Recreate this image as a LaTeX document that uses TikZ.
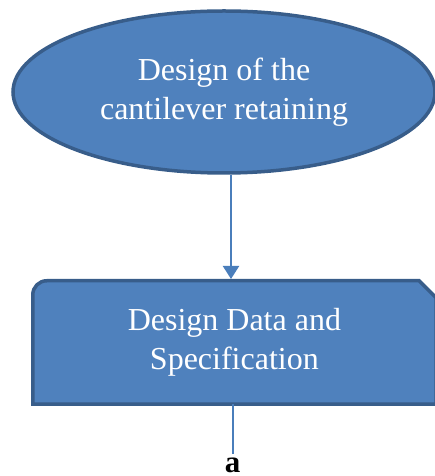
\documentclass[tikz,border=0pt]{standalone}
\usepackage{fontspec}
\setmainfont{Liberation Serif}
\usetikzlibrary{shapes.geometric,arrows.meta,backgrounds}

\definecolor{shapefill}{HTML}{4F81BD}
\definecolor{shapeline}{HTML}{385D8A}
\definecolor{flowline}{HTML}{4A7EBB}

\tikzset{
  boxtext/.style={text=white, font=\fontsize{32}{39}\selectfont, align=center, inner sep=0pt},
  startshape/.style={boxtext, ellipse, draw=shapeline, fill=shapefill, line width=3.5pt},
  shapepath/.style={draw=shapeline, fill=shapefill, line width=3.5pt},
  flow/.style={draw=flowline, line width=2pt},
  flowarrow/.style={flow, -{Triangle[width=16pt,length=13pt]}},
}

\begin{document}
\begin{tikzpicture}[x=1pt, y=1pt]
  \useasboundingbox (0,0) rectangle (435,476);

  % start ellipse
  \node[startshape, minimum width=422pt, minimum height=162pt] (goal) at (224,384)
    {Design of the\\cantilever retaining};

  % data box: rounded top-left corner, snipped top-right corner
  \node[boxtext, minimum width=403.25pt, minimum height=123.5pt, outer sep=0pt] (spec) at (234.4,133.5)
    {Design Data and\\Specification};
  \begin{scope}[on background layer]
    \path[shapepath] (spec.south west) -- ([yshift=-14pt]spec.north west)
      arc[start angle=180, end angle=90, radius=14pt]
      -- ([xshift=-17pt]spec.north east) -- ([yshift=-17pt]spec.north east)
      -- (spec.south east) -- cycle;
  \end{scope}

  % caption letter
  \node[font=\fontsize{31}{37}\selectfont\bfseries, inner sep=0pt, anchor=base] (lbl) at (232.5,3.5) {a};

  % connectors
  \draw[flowarrow] ([xshift=7pt]goal.south) -- ([xshift=7pt,yshift=1.75pt]goal.south |- spec.north);
  \draw[flow] (lbl |- spec.south) -- ([yshift=4pt]lbl.north);
\end{tikzpicture}
\end{document}
